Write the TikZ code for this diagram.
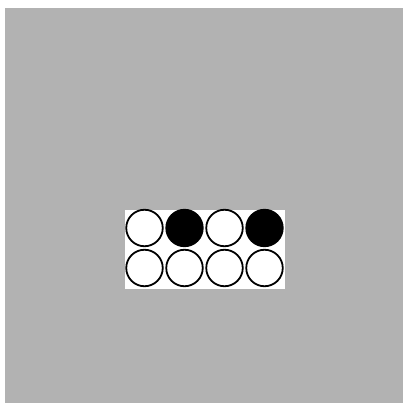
\documentclass[tikz,border=0pt]{standalone}
\begin{document}
\begin{tikzpicture}[x=1pt,y=-1pt,
  cell/.style={circle,draw=black,line width=1.8pt,minimum size=36.5pt,inner sep=0pt,fill=white},
  on/.style={cell,fill=black}]
\useasboundingbox (0,0) rectangle (403,403);
\fill[white] (0,0) rectangle (403,403);
\fill[black!30] (5,8) rectangle (403,403);
\fill[white] (125,210) rectangle (285,289);
\node[cell] (a1) at (144.5,228) {};
\node[on]   (a2) at (184.5,228) {};
\node[cell] (a3) at (224.5,228) {};
\node[on]   (a4) at (264.5,228) {};
\node[cell] (b1) at (144.5,268) {};
\node[cell] (b2) at (184.5,268) {};
\node[cell] (b3) at (224.5,268) {};
\node[cell] (b4) at (264.5,268) {};
\end{tikzpicture}
\end{document}
